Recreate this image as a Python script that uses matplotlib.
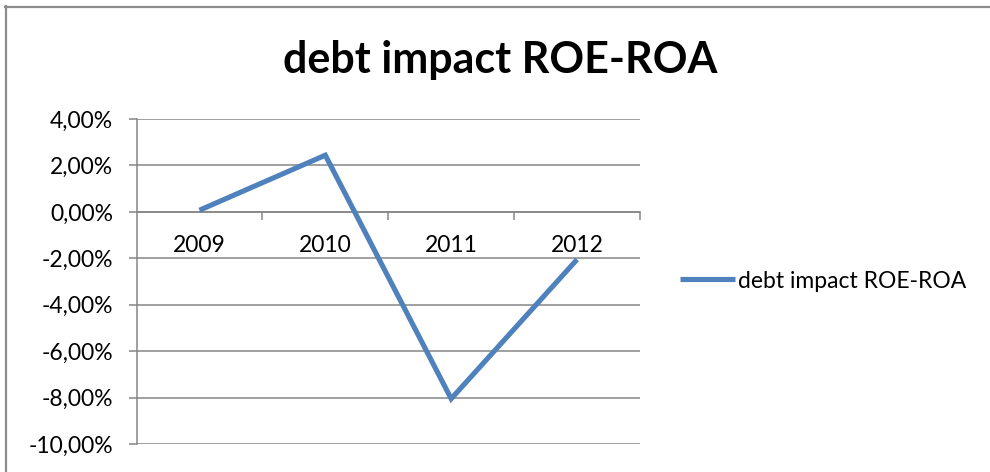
import matplotlib
matplotlib.use("Agg")
import matplotlib.pyplot as plt
from matplotlib.ticker import FixedLocator, FuncFormatter
from matplotlib.lines import Line2D

plt.rcParams['font.family'] = ['Lato', 'DejaVu Sans']

years = ["2009", "2010", "2011", "2012"]
debt_impact = [0.07, 2.44, -8.05, -2.05]  # percent
y_ticks = [4, 2, 0, -2, -4, -6, -8, -10]
series_name = "debt impact ROE-ROA"
title = "debt impact ROE-ROA"

W, H = 990, 472
fig = plt.figure(figsize=(W / 100, H / 100), dpi=100)
fig.patch.set_facecolor("white")

# Chart-area frame (top and left edges)
fig.add_artist(Line2D([5 / W, 1], [1 - 6.5 / H, 1 - 6.5 / H], color="#8c8c8c", lw=1.6,
                      transform=fig.transFigure))
fig.add_artist(Line2D([5.5 / W, 5.5 / W], [0, 1 - 6 / H], color="#8c8c8c", lw=1.6,
                      transform=fig.transFigure))

left, right, top, bottom = 136.5, 640, 119, 444
ax = fig.add_axes([left / W, 1 - bottom / H, (right - left) / W, (bottom - top) / H])

grid_color = "#868686"
fs = 16.5
x = list(range(len(years)))
ax.plot(x, debt_impact, color="#4F81BD", lw=3.7, solid_capstyle="butt",
        solid_joinstyle="miter", label=series_name, zorder=3)

ax.set_xlim(-0.5, len(years) - 0.5)
ax.set_ylim(min(y_ticks), max(y_ticks))

for v in y_ticks:
    ax.axhline(v, color=grid_color, lw=1.1, zorder=1)

ax.yaxis.set_major_locator(FixedLocator(y_ticks))
ax.yaxis.set_major_formatter(FuncFormatter(lambda v, p: f"{v:.2f}%".replace(".", ",")))
ax.tick_params(axis="y", direction="out", length=6, width=1.1, color=grid_color,
               labelsize=fs, pad=11)

ax.spines["top"].set_visible(False)
ax.spines["right"].set_visible(False)
ax.spines["left"].set_color(grid_color)
ax.spines["left"].set_linewidth(1.1)
ax.spines["bottom"].set_position(("data", 0))
ax.spines["bottom"].set_color(grid_color)
ax.spines["bottom"].set_linewidth(1.1)

ax.set_xticks(x)
ax.set_xticklabels(years)
ax.set_xticks([i + 0.5 for i in x], minor=True)
ax.tick_params(axis="x", which="major", length=0, labelsize=fs, pad=17)
ax.tick_params(axis="x", which="minor", direction="out", length=6, width=1.1, color=grid_color)

fig.text(0.5055, 1 - 60 / H, title, ha="center", va="center", fontsize=31, fontweight="bold")

fig.legend(loc="center left", bbox_to_anchor=(680 / W, 1 - 281 / H), frameon=False,
           fontsize=fs, handlelength=2.4, handletextpad=0.15, borderpad=0, borderaxespad=0)

fig.savefig("out.png", dpi=100, facecolor="white")
